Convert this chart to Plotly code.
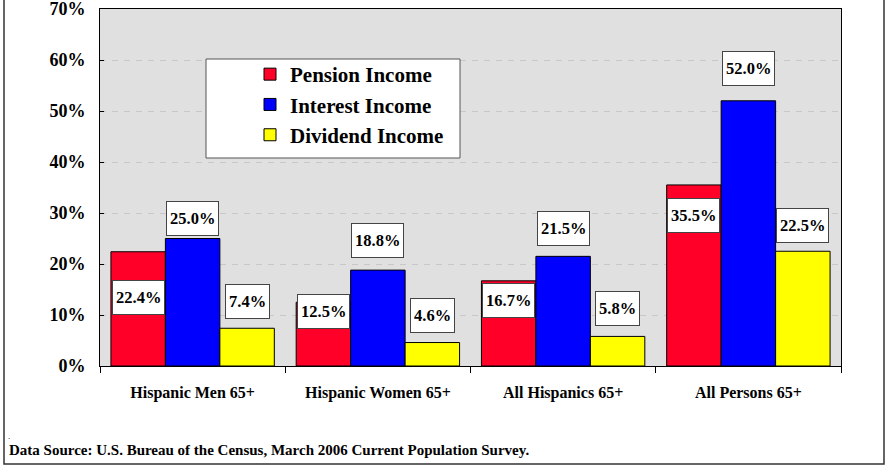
import plotly.graph_objects as go

categories = ["Hispanic Men 65+", "Hispanic Women 65+", "All Hispanics 65+", "All Persons 65+"]
pension = [22.4, 12.5, 16.7, 35.5]
interest = [25.0, 18.8, 21.5, 52.0]
dividend = [7.4, 4.6, 5.8, 22.5]
series_names = ["Pension Income", "Interest Income", "Dividend Income"]
y_ticks = [0, 10, 20, 30, 40, 50, 60, 70]

# label box centres (in axis units)
pension_label_y = [13.5, 10.6, 12.9, 29.6]
interest_label_y = [29.0, 24.7, 26.9, 58.3]
dividend_label_y = [12.7, 10.0, 11.2, 27.5]

colors = ["#FF0028", "#0000FF", "#FFFF00"]
FONT = "Liberation Serif"
BARGAP = 0.118
bw = (1 - BARGAP) / 3

fig = go.Figure()
for name, vals, col in zip(series_names, [pension, interest, dividend], colors):
    fig.add_trace(go.Bar(
        x=categories, y=vals, name=name, legendgroup=name,
        marker=dict(color=col, line=dict(color="black", width=1)),
        hoverinfo="skip",
    ))

annotations = []
for k, (vals, ly) in enumerate([(pension, pension_label_y), (interest, interest_label_y), (dividend, dividend_label_y)]):
    off = (k - 1) * bw
    for i, (v, y) in enumerate(zip(vals, ly)):
        annotations.append(dict(
            x=i + off, y=y, xref="x", yref="y", text=f"{v:.1f}%", showarrow=False,
            font=dict(family=FONT, size=16.5, color="black", weight="bold"),
            bgcolor="white", bordercolor="#444444", borderwidth=1, borderpad=3, height=27,
            xanchor="center", yanchor="middle",
        ))

# footnote
annotations.append(dict(
    x=(7 - 100) / 741, y=(366 - 450) / 357, xref="paper", yref="paper",
    text="Data Source: U.S. Bureau of the Census, March 2006 Current Population Survey.",
    showarrow=False, xanchor="left", yanchor="middle",
    font=dict(family=FONT, size=15, color="black", weight="bold"),
))
annotations.append(dict(
    x=(6 - 100) / 741, y=(366 - 436) / 357, xref="paper", yref="paper",
    text=".", showarrow=False, xanchor="left", yanchor="middle",
    font=dict(family=FONT, size=9, color="black"),
))

shapes = [
    # outer chart border
    dict(type="rect", xref="paper", yref="paper",
         x0=(4 - 100) / 741, x1=(884 - 100) / 741, y0=(366 - 464) / 357, y1=(366 + 6) / 357,
         line=dict(color="#333333", width=1.5), fillcolor="rgba(0,0,0,0)", layer="above"),
    # legend box
    dict(type="rect", xref="paper", yref="paper",
         x0=(206 - 100) / 741, x1=(460 - 100) / 741, y0=(366 - 158) / 357, y1=(366 - 59) / 357,
         line=dict(color="#555555", width=1), fillcolor="white", layer="above"),
]

fig.update_layout(
    width=887, height=466,
    margin=dict(l=100, r=46, t=9, b=100, autoexpand=False),
    paper_bgcolor="white", plot_bgcolor="#E0E0E0",
    barmode="group", bargap=BARGAP, bargroupgap=0,
    font=dict(family=FONT, color="black"),
    showlegend=True,
    legend=dict(
        x=(250 - 100) / 741, y=(366 - 54) / 357, xanchor="left", yanchor="top",
        bgcolor="rgba(0,0,0,0)", borderwidth=0, tracegroupgap=3,
        font=dict(family=FONT, size=21, color="black", weight="bold"),
        itemwidth=30, traceorder="normal",
    ),
    annotations=annotations,
    shapes=shapes,
)
fig.update_yaxes(
    range=[0, 70], tickvals=y_ticks, ticktext=[f"{t}%" for t in y_ticks],
    ticks="inside", ticklen=4, tickcolor="black", automargin=False,
    showline=True, linecolor="black", linewidth=1, mirror=True,
    showgrid=True, gridcolor="#C8C8C8", griddash="6px,6px", gridwidth=1,
    zeroline=False, ticklabelstandoff=10, ticklabeloverflow="allow",
    tickfont=dict(family=FONT, size=18, color="black", weight="bold"),
)
fig.update_xaxes(
    type="category", tickson="boundaries", ticks="outside", ticklen=6, tickcolor="black",
    showline=True, linecolor="black", linewidth=1, mirror=True, automargin=False,
    showgrid=False, ticklabelstandoff=12,
    tickfont=dict(family=FONT, size=16, color="black", weight="bold"),
)

fig.write_html("out.html", config={"displayModeBar": False},
               post_script="document.body.style.margin='0px';")
